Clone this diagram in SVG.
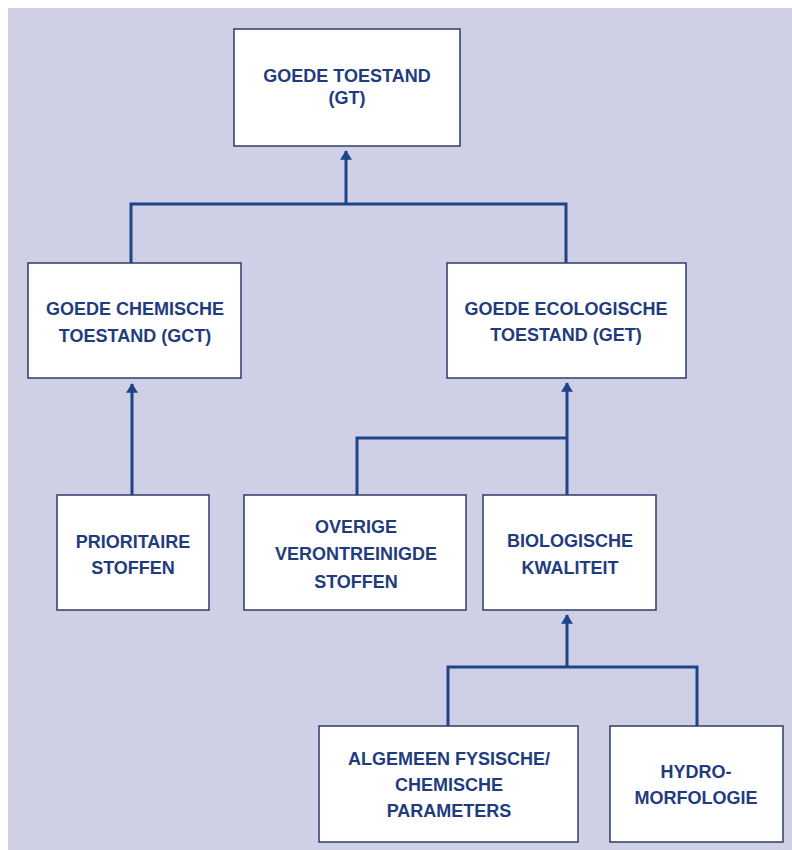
<svg xmlns="http://www.w3.org/2000/svg" width="792" height="850" viewBox="0 0 792 850">
  <defs>
    <marker id="arrow" markerUnits="userSpaceOnUse" markerWidth="16" markerHeight="12" viewBox="0 0 12 15" refX="11" refY="7.5" orient="auto">
      <path d="M0,0 L12,7.5 L0,15 Z" fill="#1c4487"/>
    </marker>
    <style>
      .box { fill: #ffffff; stroke: #2c3c68; stroke-width: 1.5; }
      .lbl { font-family: "Liberation Sans", Arial, sans-serif; font-weight: bold; font-size: 18px; fill: #1f3c7e; text-anchor: middle; }
      .conn { fill: none; stroke: #1c4487; stroke-width: 3; }
    </style>
  </defs>
  <rect x="8" y="8" width="784" height="842" fill="#cfd0e5"/>

  <g id="connectors">
    <path class="conn" d="M131,263 V204 H566 V263"/>
    <path class="conn" d="M346,204 V151" marker-end="url(#arrow)"/>
    <path class="conn" d="M132,495 V384" marker-end="url(#arrow)"/>
    <path class="conn" d="M357,495 V438 H567"/>
    <path class="conn" d="M567,495 V383" marker-end="url(#arrow)"/>
    <path class="conn" d="M448,726 V667 H697 V726"/>
    <path class="conn" d="M567,667 V615" marker-end="url(#arrow)"/>
  </g>

  <g id="gt">
    <rect class="box" x="234" y="29" width="226" height="117"/>
    <text class="lbl" x="347" y="82">GOEDE TOESTAND</text>
    <text class="lbl" x="347" y="104">(GT)</text>
  </g>
  <g id="gct">
    <rect class="box" x="28" y="263" width="213" height="115"/>
    <text class="lbl" x="135" y="315">GOEDE CHEMISCHE</text>
    <text class="lbl" x="135" y="342">TOESTAND (GCT)</text>
  </g>
  <g id="get">
    <rect class="box" x="447" y="263" width="239" height="115"/>
    <text class="lbl" x="566" y="315">GOEDE ECOLOGISCHE</text>
    <text class="lbl" x="566" y="341">TOESTAND (GET)</text>
  </g>
  <g id="prioritaire">
    <rect class="box" x="57" y="495" width="152" height="115"/>
    <text class="lbl" x="133" y="548">PRIORITAIRE</text>
    <text class="lbl" x="133" y="574">STOFFEN</text>
  </g>
  <g id="overige">
    <rect class="box" x="244" y="495" width="222" height="115"/>
    <text class="lbl" x="356" y="533">OVERIGE</text>
    <text class="lbl" x="356" y="560">VERONTREINIGDE</text>
    <text class="lbl" x="356" y="588">STOFFEN</text>
  </g>
  <g id="biologische">
    <rect class="box" x="483" y="495" width="173" height="115"/>
    <text class="lbl" x="570" y="547">BIOLOGISCHE</text>
    <text class="lbl" x="570" y="574">KWALITEIT</text>
  </g>
  <g id="algemeen">
    <rect class="box" x="319" y="726" width="259" height="116"/>
    <text class="lbl" x="449" y="765">ALGEMEEN FYSISCHE/</text>
    <text class="lbl" x="449" y="791">CHEMISCHE</text>
    <text class="lbl" x="449" y="817">PARAMETERS</text>
  </g>
  <g id="hydro">
    <rect class="box" x="610" y="726" width="173" height="116"/>
    <text class="lbl" x="696" y="778">HYDRO-</text>
    <text class="lbl" x="696" y="804">MORFOLOGIE</text>
  </g>
</svg>
